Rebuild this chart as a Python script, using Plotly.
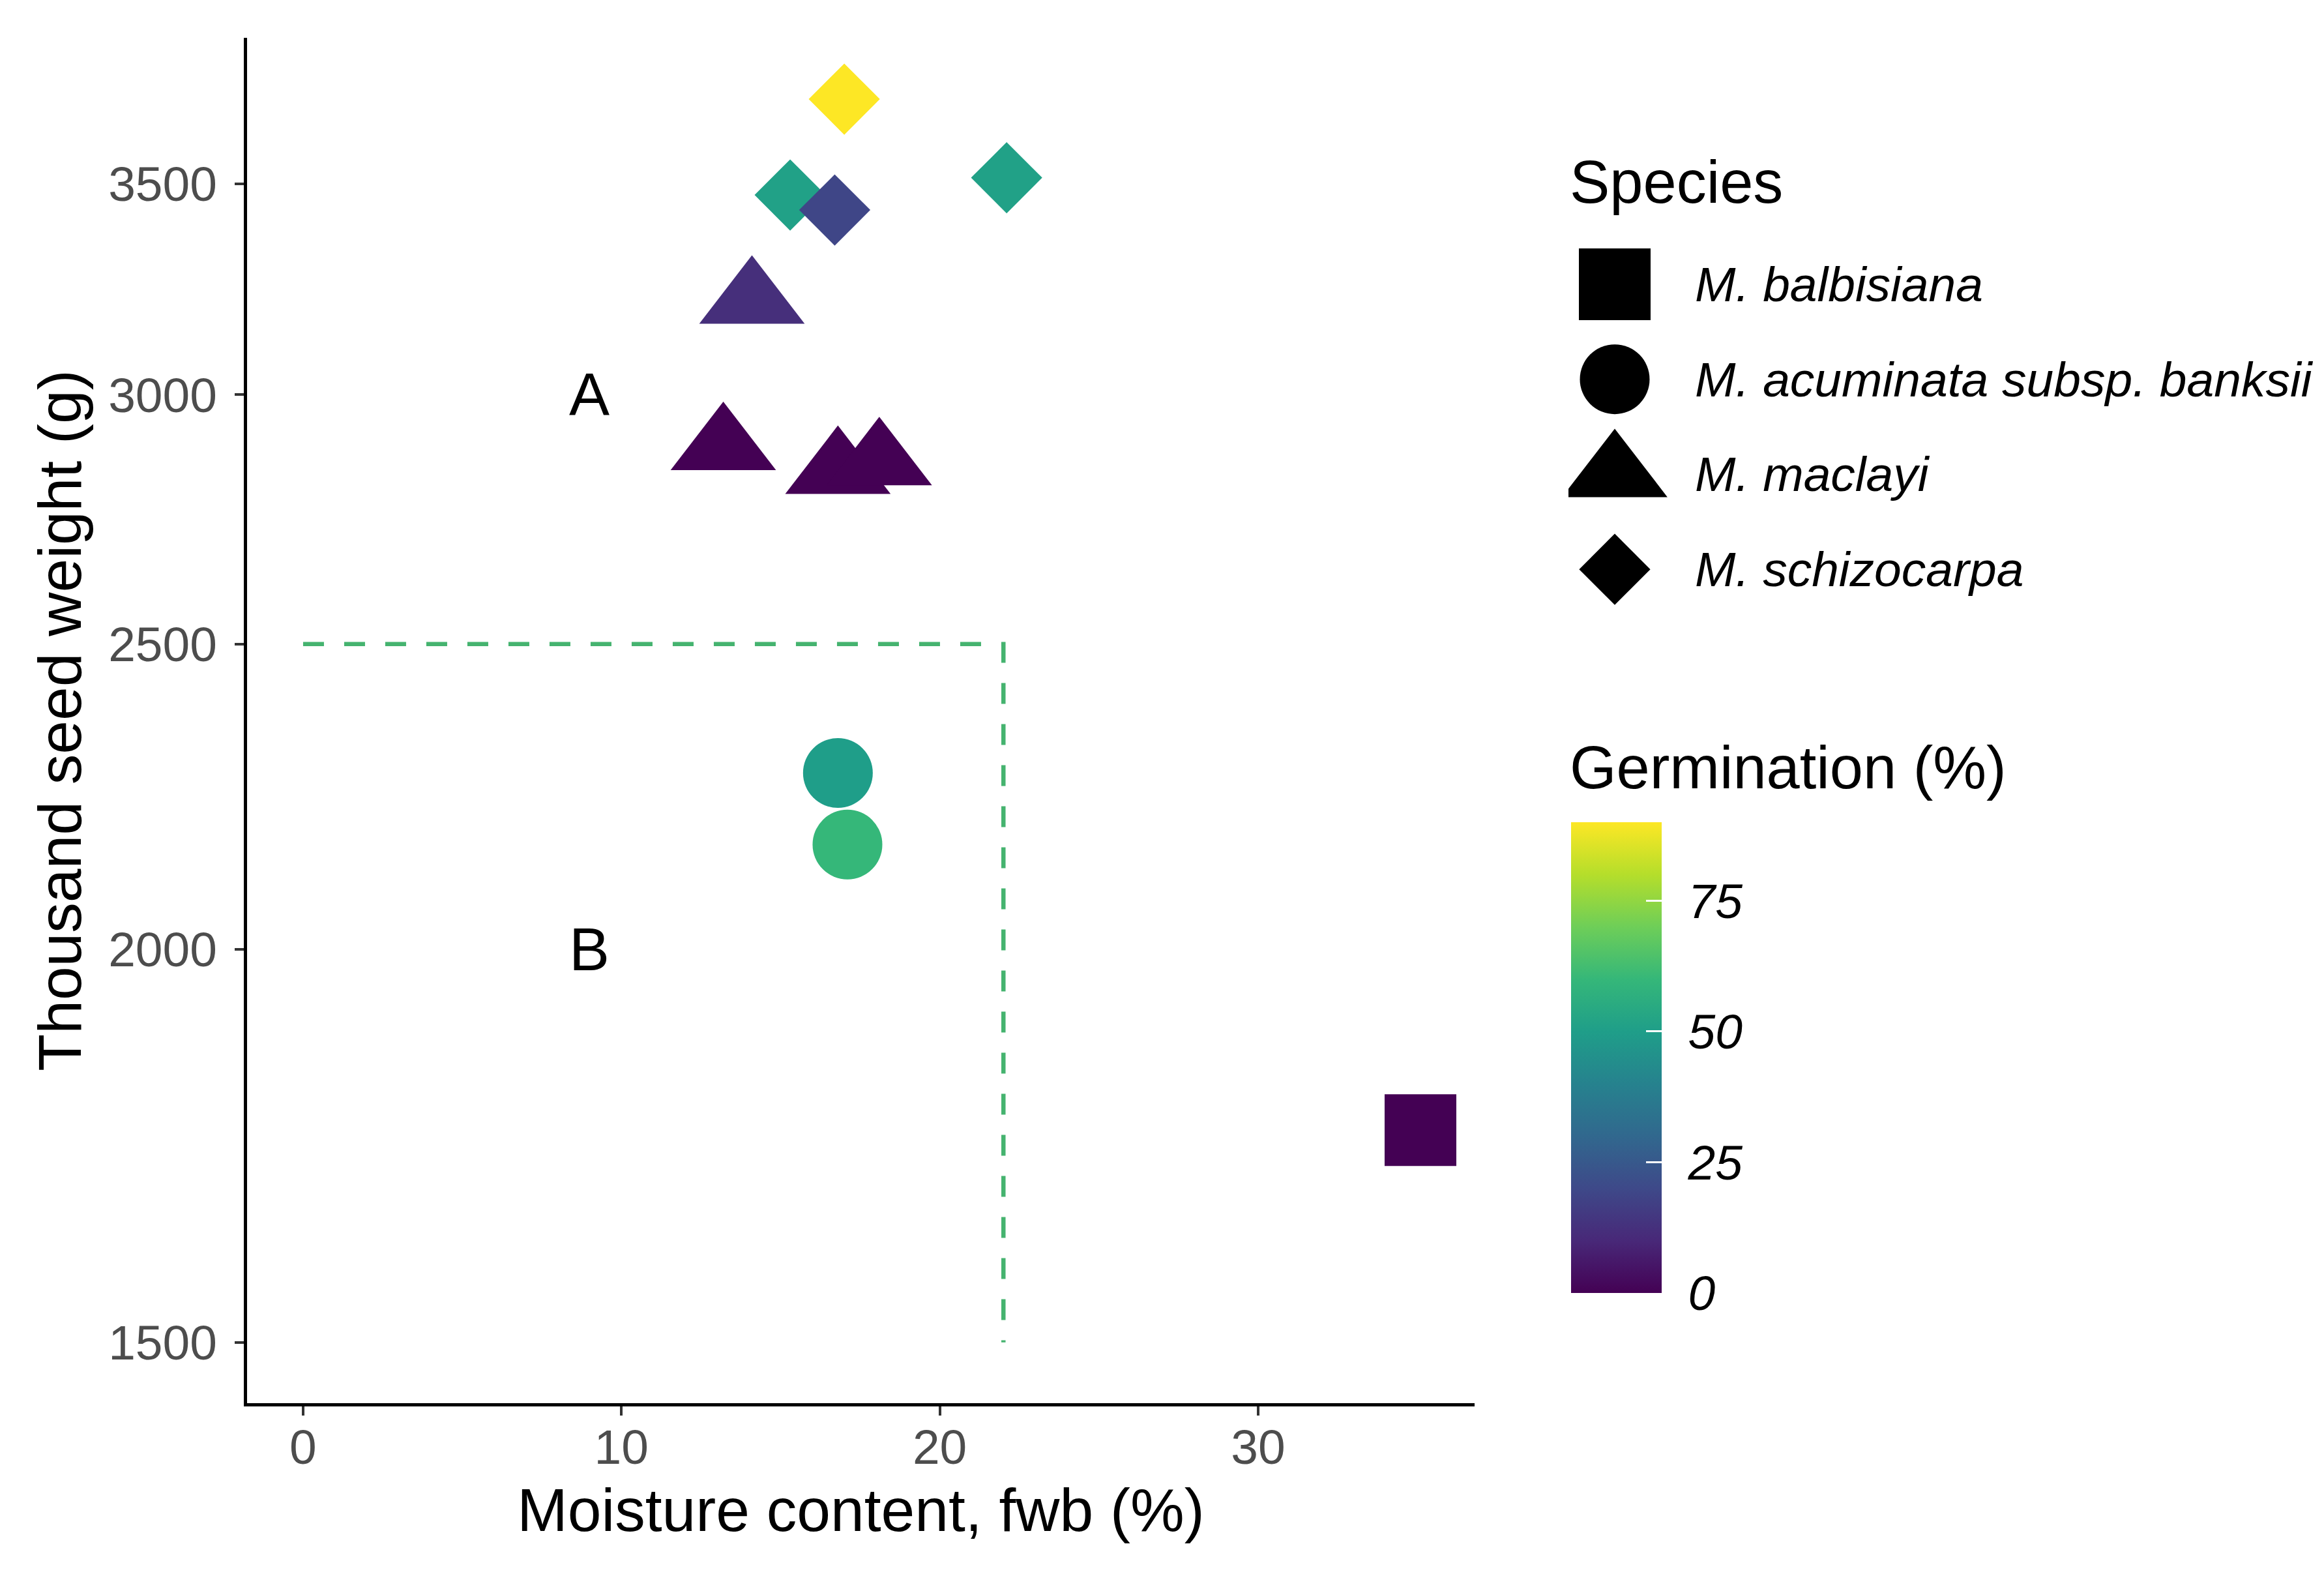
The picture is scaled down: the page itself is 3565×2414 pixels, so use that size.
import math
import plotly.graph_objects as go

# ---------------- data ----------------
species_names = ["M. balbisiana", "M. acuminata subsp. banksii", "M. maclayi", "M. schizocarpa"]
species_symbols = ["square", "circle", "triangle-up", "diamond"]
species_sizes = [110, 107, 140, 84]

point_species = ["M. schizocarpa", "M. schizocarpa", "M. schizocarpa", "M. schizocarpa",
                 "M. maclayi", "M. maclayi", "M. maclayi", "M. maclayi",
                 "M. acuminata subsp. banksii", "M. acuminata subsp. banksii",
                 "M. balbisiana"]
moisture = [17.0, 22.1, 15.3, 16.7, 14.1, 13.2, 16.8, 18.1, 16.8, 17.1, 35.1]
seed_weight = [3724, 3516, 3472, 3434, 3213, 2887, 2837, 2855, 2275, 2159, 1752]
germination = [90, 51, 51, 19, 12, 0, 0, 0, 50, 60, 0]

x_ticks = [0, 10, 20, 30]
y_ticks = [1500, 2000, 2500, 3000, 3500]
cbar_ticks = [0, 25, 50, 75]

ref_x = [0, 22, 22]
ref_y = [2500, 2500, 1500]

label_text = ["A", "B"]
label_x = [9, 9]
label_y = [3000, 2000]

# ---------------- figure ----------------
W, H = 3549, 2398          # page body has an 8px margin
FONT = "Liberation Sans, Arial, sans-serif"


def fx(px):
    return (px - 8) / W


def fy(py):
    return 1 - (py - 8) / H


fig = go.Figure()

# reference dashed line
fig.add_trace(go.Scatter(
    x=ref_x, y=ref_y, mode="lines",
    line=dict(color="#45B36F", width=6.5, dash="32px,31px"),
    hoverinfo="skip", showlegend=False, xaxis="x", yaxis="y"))

# points by species
for name, sym, sz in zip(species_names, species_symbols, species_sizes):
    idx = [i for i, s in enumerate(point_species) if s == name]
    fig.add_trace(go.Scatter(
        x=[moisture[i] for i in idx],
        y=[seed_weight[i] for i in idx],
        mode="markers",
        marker=dict(symbol=sym, size=sz, color=[germination[i] for i in idx],
                    coloraxis="coloraxis", line=dict(width=0), opacity=1),
        name=name, showlegend=False, xaxis="x", yaxis="y"))

# manual species legend (drawn on its own hidden axes)
legend_rank = list(range(len(species_names)))
fig.add_trace(go.Scatter(
    x=[0] * len(species_names), y=legend_rank, mode="markers",
    marker=dict(symbol=species_symbols, size=species_sizes, color="black",
                line=dict(width=0), opacity=1),
    showlegend=False, hoverinfo="skip", xaxis="x2", yaxis="y2"))

annotations = []
for t, xv, yv in zip(label_text, label_x, label_y):
    annotations.append(dict(text=t, x=xv, y=math.log10(yv), xref="x", yref="y",
                            showarrow=False, font=dict(size=93, color="black", family=FONT)))
for r, name in zip(legend_rank, species_names):
    annotations.append(dict(text="<i>" + name + "</i>", x=fx(2598), y=r, xref="paper", yref="y2",
                            xanchor="left", yanchor="middle", showarrow=False,
                            font=dict(size=75, color="black", family=FONT)))
annotations.append(dict(text="Species", x=fx(2406), y=fy(279), xref="paper", yref="paper",
                        xanchor="left", yanchor="middle", showarrow=False,
                        font=dict(size=92, color="black", family=FONT)))
annotations.append(dict(text="Germination (%)", x=fx(2406), y=fy(1177), xref="paper", yref="paper",
                        xanchor="left", yanchor="middle", showarrow=False,
                        font=dict(size=92, color="black", family=FONT)))

fig.update_layout(
    width=W, height=H,
    margin=dict(l=0, r=0, t=0, b=0),
    paper_bgcolor="white", plot_bgcolor="white",
    font=dict(family=FONT),
    showlegend=False,
    xaxis=dict(
        domain=[fx(379), fx(2262)], range=[-1.76, 36.8],
        tickvals=x_ticks, ticktext=[str(v) for v in x_ticks],
        ticks="outside", ticklen=14, tickwidth=4, tickcolor="#333333",
        tickfont=dict(size=75, color="#4D4D4D", family=FONT),
        ticklabelstandoff=-16,
        showline=True, linecolor="black", linewidth=5,
        showgrid=False, zeroline=False, automargin=False,
        title=dict(text="Moisture content, fwb (%)", font=dict(size=93, color="black", family=FONT),
                   standoff=24),
        anchor="y",
    ),
    yaxis=dict(
        domain=[fy(2152), fy(58)], type="log",
        range=[3.1568, 3.5905],
        tickvals=y_ticks, ticktext=[str(v) for v in y_ticks],
        ticks="outside", ticklen=14, tickwidth=4, tickcolor="#333333",
        tickfont=dict(size=75, color="#4D4D4D", family=FONT),
        ticklabelstandoff=12,
        showline=True, linecolor="black", linewidth=5,
        showgrid=False, zeroline=False, automargin=False,
        title=dict(text="Thousand seed weight (g)", font=dict(size=93, color="black", family=FONT),
                   standoff=12),
        anchor="x",
    ),
    xaxis2=dict(domain=[fx(2406), fx(3500)], range=[-0.0649, 0.9351], visible=False,
                fixedrange=True, anchor="y2"),
    yaxis2=dict(domain=[fy(946), fy(363)], range=[len(species_names) - 0.5, -0.5],
                visible=False, fixedrange=True, anchor="x2"),
    coloraxis=dict(
        colorscale="Viridis", cmin=0, cmax=90,
        colorbar=dict(
            thickness=139, thicknessmode="pixels",
            len=722, lenmode="pixels",
            x=fx(2410), xanchor="left", y=fy(1622), yanchor="middle",
            xpad=0, ypad=0, outlinewidth=0,
            tickvals=cbar_ticks, ticktext=["\u2006\u2006" + str(v) for v in cbar_ticks],
            ticks="inside", ticklen=24, tickwidth=3, tickcolor="white",
            tickfont=dict(size=75, color="black", family=FONT, style="italic"),
            title=dict(text=""),
        ),
    ),
    annotations=annotations,
)

fig.write_html("out.html")
